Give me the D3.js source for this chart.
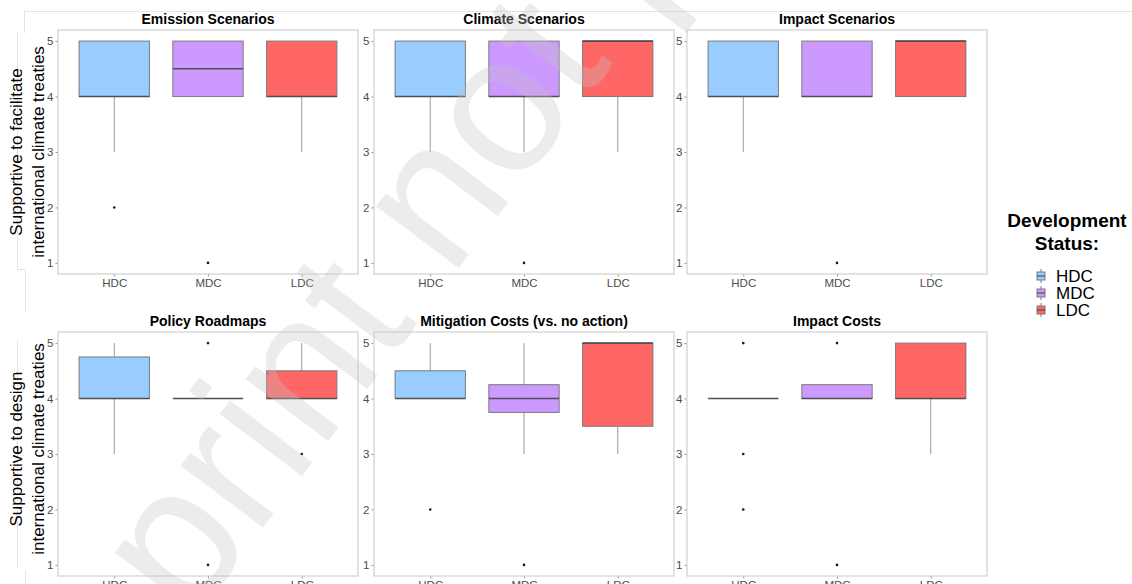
<!DOCTYPE html>
<html>
<head>
<meta charset="utf-8">
<script src="https://cdn.jsdelivr.net/npm/d3@7"></script>
<style>
  html, body { margin: 0; padding: 0; background: #ffffff; }
  svg { display: block; font-family: "Liberation Sans", Arial, Helvetica, sans-serif; }
</style>
</head>
<body>
<script>
// Development status groups shown in every facet
const categories = ["HDC", "MDC", "LDC"];

// Facet titles, in reading order (top row, then bottom row)
const panelTitles = [
  "Emission Scenarios", "Climate Scenarios", "Impact Scenarios",
  "Policy Roadmaps", "Mitigation Costs (vs. no action)", "Impact Costs"
];

// Row labels (two lines each)
const rowTitles = [
  ["Supportive to facilitate", "international climate treaties"],
  ["Supportive to design", "international climate treaties"]
];

const yTicks = [1, 2, 3, 4, 5];

// Box statistics per group: [lower whisker, Q1, median, Q3, upper whisker]
const emissionScenarios = [[3, 4, 4, 5, 5], [4, 4, 4.5, 5, 5], [3, 4, 4, 5, 5]];
const climateScenarios  = [[3, 4, 4, 5, 5], [3, 4, 4, 5, 5], [3, 4, 5, 5, 5]];
const impactScenarios   = [[3, 4, 4, 5, 5], [4, 4, 4, 5, 5], [4, 4, 5, 5, 5]];
const policyRoadmaps    = [[3, 4, 4, 4.75, 5], [4, 4, 4, 4, 4], [4, 4, 4, 4.5, 5]];
const mitigationCosts   = [[4, 4, 4, 4.5, 5], [3, 3.75, 4, 4.25, 5], [3, 3.5, 5, 5, 5]];
const impactCosts       = [[4, 4, 4, 4, 4], [4, 4, 4, 4.25, 4.25], [3, 4, 4, 5, 5]];

// Outlying responses per group
const emissionOutliers   = [[2], [1], []];
const climateOutliers    = [[], [1], []];
const impactOutliers     = [[], [1], []];
const policyOutliers     = [[], [5, 1], [3]];
const mitigationOutliers = [[2], [1], []];
const impactCostOutliers = [[5, 3, 2], [5, 1], []];

const panelStats = [emissionScenarios, climateScenarios, impactScenarios,
                    policyRoadmaps, mitigationCosts, impactCosts];
const panelOutliers = [emissionOutliers, climateOutliers, impactOutliers,
                       policyOutliers, mitigationOutliers, impactCostOutliers];

const fills = { HDC: "#99CCFF", MDC: "#CC99FF", LDC: "#FF6666" };

const W = 1132, H = 584;
const colX = [58, 374, 687];
const rowY = [30, 332];
const pw = 300, ph = 244;

const svg = d3.select("body").append("svg")
  .attr("width", W).attr("height", H);

// faint frame lines around the figure pieces
const frame = svg.append("g").attr("fill", "none").attr("stroke", "#e4e4e4").attr("stroke-width", 1);
[
  [[24.5, 11.5], [W, 11.5]],
  [[24.5, 11.5], [24.5, 33]],
  [[17.5, 33], [17.5, 269.5], [25.5, 269.5], [25.5, 312]],
  [[17.5, 340], [17.5, 567]],
  [[25.5, 570], [25.5, H]]
].forEach(pts => frame.append("path").attr("d", d3.line()(pts)));

const x = d3.scalePoint().domain(categories).range([0, pw]).padding(0.6);
const y = d3.scaleLinear().domain([0.8, 5.2]).range([ph, 0]);
const boxW = x.step() * 0.75;

panelTitles.forEach((title, i) => {
  const col = i % 3, row = Math.floor(i / 3);
  const g = svg.append("g").attr("transform", `translate(${colX[col]},${rowY[row]})`);

  // facet title
  g.append("text")
    .attr("x", pw / 2).attr("y", -6)
    .attr("text-anchor", "middle")
    .attr("font-size", 14).attr("font-weight", "bold").attr("fill", "#000")
    .text(title);

  // y axis
  const ya = g.append("g").call(
    d3.axisLeft(y).tickValues(yTicks).tickFormat(d3.format("d")).tickSize(2.5).tickPadding(2));
  ya.select(".domain").remove();
  ya.selectAll(".tick line").attr("stroke", "#4d4d4d").attr("stroke-width", 0.6);
  ya.selectAll(".tick text").attr("font-size", 11.5).attr("fill", "#4d4d4d")
    .attr("font-family", "Liberation Sans, Arial, sans-serif");

  // x axis
  const xa = g.append("g").attr("transform", `translate(0,${ph})`)
    .call(d3.axisBottom(x).tickSize(2.5).tickPadding(2));
  xa.select(".domain").remove();
  xa.selectAll(".tick line").attr("stroke", "#4d4d4d").attr("stroke-width", 0.6);
  xa.selectAll(".tick text").attr("font-size", 11.5).attr("fill", "#4d4d4d")
    .attr("font-family", "Liberation Sans, Arial, sans-serif");

  const stats = panelStats[i];
  const outs = panelOutliers[i];

  categories.forEach((cat, k) => {
    const [lo, q1, med, q3, hi] = stats[k];
    const cx = x(cat);
    const bg = g.append("g");
    // whiskers
    bg.append("line").attr("x1", cx).attr("x2", cx).attr("y1", y(q3)).attr("y2", y(hi))
      .attr("stroke", "#9a9a9a").attr("stroke-width", 1);
    bg.append("line").attr("x1", cx).attr("x2", cx).attr("y1", y(q1)).attr("y2", y(lo))
      .attr("stroke", "#9a9a9a").attr("stroke-width", 1);
    // box
    bg.append("rect")
      .attr("x", cx - boxW / 2).attr("width", boxW)
      .attr("y", y(q3)).attr("height", Math.max(0, y(q1) - y(q3)))
      .attr("fill", fills[cat]).attr("stroke", "#7a7a7a").attr("stroke-width", 1);
    // median
    bg.append("line")
      .attr("x1", cx - boxW / 2).attr("x2", cx + boxW / 2)
      .attr("y1", y(med)).attr("y2", y(med))
      .attr("stroke", "#505050").attr("stroke-width", 1.6);
    // outliers
    bg.selectAll("circle.out").data(outs[k]).enter().append("circle")
      .attr("class", "out")
      .attr("cx", cx).attr("cy", d => y(d)).attr("r", 1.3)
      .attr("fill", "#1a1a1a");
  });

  // panel border
  g.append("rect").attr("x", 0).attr("y", 0).attr("width", pw).attr("height", ph)
    .attr("fill", "none").attr("stroke", "#d4d4d4").attr("stroke-width", 1.3);
});

// row titles
const rowCenters = [152, 449];
rowTitles.forEach((lines, r) => {
  const t = svg.append("text")
    .attr("transform", `translate(22,${rowCenters[r]}) rotate(-90)`)
    .attr("text-anchor", "middle")
    .attr("font-size", 17).attr("fill", "#000");
  lines.forEach((ln, j) => {
    t.append("tspan").attr("x", 0).attr("dy", j === 0 ? 0 : 22).text(ln);
  });
});

// legend
const lg = svg.append("g");
lg.append("text").attr("x", 1067).attr("y", 227).attr("text-anchor", "middle")
  .attr("font-size", 19).attr("font-weight", "bold").text("Development");
lg.append("text").attr("x", 1067).attr("y", 250).attr("text-anchor", "middle")
  .attr("font-size", 19).attr("font-weight", "bold").text("Status:");
const keyY = d3.scalePoint().domain(categories).range([276, 310]);
categories.forEach(cat => {
  const cy = keyY(cat);
  const k = lg.append("g");
  k.append("line").attr("x1", 1041).attr("x2", 1041).attr("y1", cy - 7).attr("y2", cy + 7)
    .attr("stroke", "#7a7a7a").attr("stroke-width", 1);
  k.append("rect").attr("x", 1037).attr("y", cy - 4).attr("width", 8).attr("height", 8)
    .attr("fill", fills[cat]).attr("stroke", "#7a7a7a").attr("stroke-width", 1);
  k.append("line").attr("x1", 1037).attr("x2", 1045).attr("y1", cy).attr("y2", cy)
    .attr("stroke", "#505050").attr("stroke-width", 1.2);
  k.append("text").attr("x", 1056).attr("y", cy + 6).attr("font-size", 17)
    .attr("fill", "#000").text(cat);
});

// diagonal watermark laid over the figure
svg.append("text")
  .attr("transform", "translate(20,850) rotate(-53)")
  .attr("font-size", 195)
  .attr("fill", "#c4c4c4").attr("fill-opacity", 0.32)
  .attr("pointer-events", "none")
  .text("preprint not peer reviewed");
</script>
</body>
</html>
